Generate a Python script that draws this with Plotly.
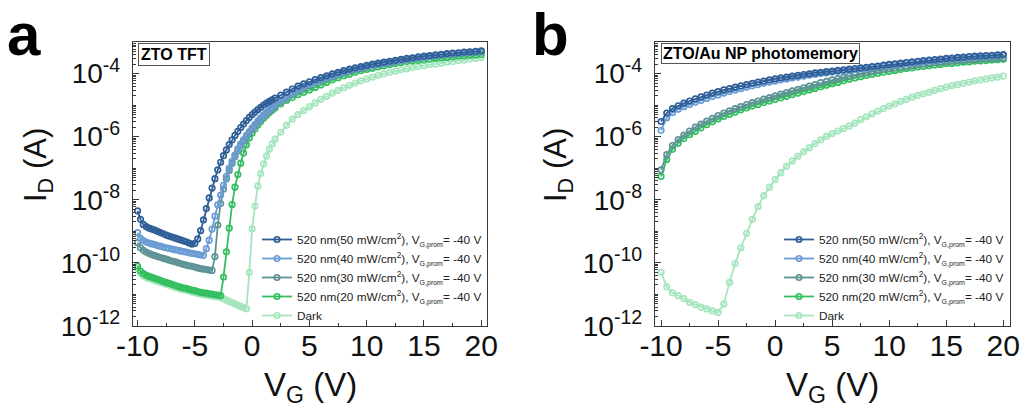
import plotly.graph_objects as go

# Gate-voltage sweep points (V)
VG_A = [-10.0, -9.75, -9.5, -9.25, -9.0, -8.75, -8.5, -8.25, -8.0, -7.75,
        -7.5, -7.25, -7.0, -6.75, -6.5, -6.25, -6.0, -5.75, -5.5, -5.25,
        -5.0, -4.75, -4.5, -4.25, -4.0, -3.75, -3.5, -3.25, -3.0, -2.75,
        -2.5, -2.25, -2.0, -1.75, -1.5, -1.25, -1.0, -0.75, -0.5, -0.25,
        0.0, 0.25, 0.5, 0.75, 1.0, 1.25, 1.5, 1.75, 2.0,
        2.5, 3.0, 3.5, 4.0, 4.5, 5.0, 5.5, 6.0, 6.5, 7.0,
        7.5, 8.0, 8.5, 9.0, 9.5, 10.0, 10.5, 11.0, 11.5, 12.0,
        12.5, 13.0, 13.5, 14.0, 14.5, 15.0, 15.5, 16.0, 16.5, 17.0,
        17.5, 18.0, 18.5, 19.0, 19.5, 20.0]

VG_B = [-10.0, -9.5, -9.0, -8.5, -8.0, -7.5, -7.0, -6.5, -6.0, -5.5,
        -5.0, -4.5, -4.0, -3.5, -3.0, -2.5, -2.0, -1.5, -1.0, -0.5,
        0.0, 0.5, 1.0, 1.5, 2.0, 2.5, 3.0, 3.5, 4.0, 4.5,
        5.0, 5.5, 6.0, 6.5, 7.0, 7.5, 8.0, 8.5, 9.0, 9.5,
        10.0, 10.5, 11.0, 11.5, 12.0, 12.5, 13.0, 13.5, 14.0, 14.5,
        15.0, 15.5, 16.0, 16.5, 17.0, 17.5, 18.0, 18.5, 19.0, 19.5,
        20.0]

# log10 of drain current (A), ZTO TFT
LOG_ID_A_50 = [-8.35, -8.62, -8.78, -8.85, -8.90, -8.93, -8.96, -9.00, -9.04, -9.08,
               -9.12, -9.15, -9.18, -9.21, -9.24, -9.27, -9.30, -9.33, -9.37, -9.41,
               -9.38, -9.24, -8.98, -8.64, -8.28, -7.94, -7.63, -7.33, -7.05, -6.81,
               -6.60, -6.42, -6.25, -6.10, -5.96, -5.83, -5.71, -5.60, -5.49, -5.39,
               -5.30, -5.22, -5.14, -5.07, -5.00, -4.94, -4.88, -4.83, -4.78,
               -4.68, -4.59, -4.49, -4.40, -4.33, -4.26, -4.19, -4.13, -4.07, -4.01,
               -3.96, -3.91, -3.86, -3.82, -3.78, -3.74, -3.70, -3.67, -3.64, -3.61,
               -3.58, -3.55, -3.52, -3.50, -3.47, -3.45, -3.43, -3.41, -3.39, -3.37,
               -3.35, -3.34, -3.32, -3.31, -3.30, -3.28]
LOG_ID_A_40 = [-9.04, -9.22, -9.29, -9.34, -9.37, -9.40, -9.42, -9.45, -9.47, -9.50,
               -9.52, -9.54, -9.56, -9.58, -9.60, -9.62, -9.64, -9.66, -9.68, -9.70,
               -9.71, -9.73, -9.75, -9.76, -9.55, -9.28, -8.93, -8.52, -8.16, -7.85,
               -7.54, -7.26, -7.00, -6.78, -6.58, -6.39, -6.23, -6.09, -5.96, -5.84,
               -5.72, -5.61, -5.50, -5.40, -5.31, -5.23, -5.15, -5.07, -5.00,
               -4.87, -4.75, -4.63, -4.52, -4.43, -4.35, -4.27, -4.20, -4.13, -4.07,
               -4.01, -3.96, -3.91, -3.86, -3.82, -3.78, -3.74, -3.70, -3.67, -3.64,
               -3.61, -3.58, -3.55, -3.52, -3.50, -3.48, -3.45, -3.43, -3.41, -3.39,
               -3.37, -3.36, -3.34, -3.33, -3.31, -3.30]
LOG_ID_A_30 = [-9.36, -9.52, -9.60, -9.66, -9.70, -9.74, -9.77, -9.80, -9.83, -9.86,
               -9.88, -9.91, -9.94, -9.96, -9.99, -10.02, -10.05, -10.07, -10.09, -10.11,
               -10.13, -10.16, -10.18, -10.20, -10.21, -10.23, -10.24, -9.80, -8.80, -8.12,
               -7.66, -7.34, -7.07, -6.84, -6.64, -6.45, -6.29, -6.14, -6.01, -5.89,
               -5.77, -5.66, -5.55, -5.45, -5.36, -5.27, -5.19, -5.11, -5.04,
               -4.91, -4.78, -4.66, -4.55, -4.46, -4.38, -4.30, -4.23, -4.16, -4.10,
               -4.04, -3.98, -3.93, -3.88, -3.84, -3.80, -3.76, -3.72, -3.69, -3.66,
               -3.62, -3.59, -3.56, -3.54, -3.51, -3.49, -3.46, -3.44, -3.42, -3.40,
               -3.38, -3.37, -3.35, -3.34, -3.32, -3.31]
LOG_ID_A_20 = [-10.10, -10.26, -10.34, -10.39, -10.43, -10.46, -10.49, -10.52, -10.55, -10.59,
               -10.62, -10.65, -10.68, -10.71, -10.74, -10.77, -10.79, -10.81, -10.84, -10.86,
               -10.88, -10.91, -10.93, -10.95, -10.96, -10.98, -10.99, -11.01, -11.02, -11.04,
               -10.45, -9.65, -8.90, -8.15, -7.60, -7.20, -6.84, -6.52, -6.26, -6.04,
               -5.89, -5.76, -5.63, -5.52, -5.42, -5.33, -5.24, -5.16, -5.09,
               -4.96, -4.85, -4.76, -4.67, -4.59, -4.52, -4.44, -4.36, -4.28, -4.20,
               -4.13, -4.07, -4.02, -3.96, -3.91, -3.87, -3.83, -3.79, -3.75, -3.72,
               -3.68, -3.65, -3.62, -3.60, -3.58, -3.56, -3.54, -3.52, -3.50, -3.49,
               -3.47, -3.45, -3.44, -3.42, -3.41, -3.40]
LOG_ID_A_DARK = [-10.18, -10.33, -10.41, -10.46, -10.50, -10.53, -10.56, -10.59, -10.62, -10.65,
                 -10.68, -10.71, -10.74, -10.77, -10.80, -10.83, -10.85, -10.87, -10.90, -10.92,
                 -10.94, -10.97, -10.99, -11.01, -11.02, -11.04, -11.05, -11.07, -11.08, -11.10,
                 -11.13, -11.18, -11.22, -11.26, -11.30, -11.34, -11.38, -11.42, -11.45, -10.30,
                 -8.92, -8.20, -7.56, -7.17, -6.86, -6.61, -6.40, -6.23, -6.08,
                 -5.86, -5.64, -5.44, -5.30, -5.17, -5.05, -4.93, -4.82, -4.72, -4.62,
                 -4.53, -4.45, -4.37, -4.30, -4.23, -4.17, -4.11, -4.06, -4.01, -3.96,
                 -3.92, -3.88, -3.85, -3.81, -3.78, -3.75, -3.72, -3.70, -3.67, -3.64,
                 -3.62, -3.59, -3.57, -3.54, -3.52, -3.49]

# log10 of drain current (A), ZTO/Au NP photomemory
LOG_ID_B_50 = [-5.52, -5.25, -5.11, -5.02, -4.94, -4.87, -4.80, -4.74, -4.68, -4.62,
               -4.57, -4.52, -4.48, -4.43, -4.39, -4.35, -4.31, -4.27, -4.24, -4.20,
               -4.17, -4.14, -4.11, -4.08, -4.06, -4.03, -4.01, -3.98, -3.96, -3.94,
               -3.92, -3.90, -3.88, -3.86, -3.84, -3.82, -3.80, -3.78, -3.76, -3.73,
               -3.71, -3.69, -3.67, -3.65, -3.63, -3.61, -3.59, -3.57, -3.56, -3.54,
               -3.52, -3.51, -3.49, -3.48, -3.46, -3.45, -3.44, -3.43, -3.42, -3.41,
               -3.40]
LOG_ID_B_40 = [-5.80, -5.40, -5.24, -5.13, -5.05, -4.98, -4.91, -4.85, -4.79, -4.73,
               -4.68, -4.62, -4.57, -4.52, -4.48, -4.43, -4.39, -4.35, -4.31, -4.27,
               -4.24, -4.20, -4.17, -4.14, -4.11, -4.08, -4.05, -4.03, -4.00, -3.98,
               -3.95, -3.93, -3.91, -3.89, -3.87, -3.85, -3.83, -3.80, -3.78, -3.76,
               -3.74, -3.72, -3.70, -3.68, -3.66, -3.64, -3.62, -3.60, -3.58, -3.56,
               -3.55, -3.53, -3.51, -3.50, -3.48, -3.47, -3.46, -3.45, -3.44, -3.43,
               -3.42]
LOG_ID_B_30 = [-7.05, -6.57, -6.28, -6.09, -5.95, -5.82, -5.70, -5.60, -5.51, -5.42,
               -5.33, -5.25, -5.18, -5.11, -5.05, -4.98, -4.92, -4.87, -4.81, -4.76,
               -4.71, -4.65, -4.60, -4.55, -4.50, -4.45, -4.40, -4.35, -4.29, -4.25,
               -4.20, -4.16, -4.12, -4.08, -4.03, -4.00, -3.97, -3.93, -3.90, -3.87,
               -3.85, -3.82, -3.79, -3.77, -3.75, -3.72, -3.70, -3.68, -3.66, -3.64,
               -3.63, -3.61, -3.60, -3.58, -3.57, -3.56, -3.55, -3.54, -3.53, -3.52,
               -3.51]
LOG_ID_B_20 = [-7.26, -6.72, -6.40, -6.21, -6.06, -5.94, -5.83, -5.72, -5.62, -5.53,
               -5.44, -5.36, -5.29, -5.22, -5.15, -5.09, -5.03, -4.98, -4.92, -4.87,
               -4.82, -4.77, -4.72, -4.67, -4.62, -4.57, -4.52, -4.47, -4.42, -4.37,
               -4.32, -4.28, -4.23, -4.18, -4.14, -4.10, -4.06, -4.02, -3.99, -3.96,
               -3.93, -3.90, -3.87, -3.84, -3.82, -3.79, -3.77, -3.75, -3.73, -3.71,
               -3.69, -3.68, -3.66, -3.64, -3.63, -3.61, -3.60, -3.59, -3.57, -3.56,
               -3.55]
LOG_ID_B_DARK = [-10.30, -10.76, -10.95, -11.04, -11.13, -11.25, -11.32, -11.40, -11.46, -11.52,
                 -11.57, -11.30, -10.62, -10.02, -9.52, -9.06, -8.62, -8.22, -7.87, -7.60,
                 -7.36, -7.14, -6.94, -6.77, -6.62, -6.48, -6.35, -6.22, -6.10, -5.99,
                 -5.90, -5.82, -5.74, -5.66, -5.57, -5.46, -5.37, -5.28, -5.19, -5.11,
                 -5.03, -4.96, -4.88, -4.82, -4.75, -4.69, -4.64, -4.59, -4.53, -4.48,
                 -4.43, -4.38, -4.35, -4.31, -4.27, -4.23, -4.20, -4.17, -4.14, -4.11,
                 -4.08]

SUB = "<span style='font-size:7px'>G,prom</span>"
LABELS = [f"520 nm(50 mW/cm<sup>2</sup>), V<sub>{SUB}</sub>= -40 V",
          f"520 nm(40 mW/cm<sup>2</sup>), V<sub>{SUB}</sub>= -40 V",
          f"520 nm(30 mW/cm<sup>2</sup>), V<sub>{SUB}</sub>= -40 V",
          f"520 nm(20 mW/cm<sup>2</sup>), V<sub>{SUB}</sub>= -40 V",
          "Dark"]
COLORS = ["#2F5E97", "#6A9CD4", "#5E9396", "#33BE5F", "#A3E5BC"]
SERIES_A = [LOG_ID_A_50, LOG_ID_A_40, LOG_ID_A_30, LOG_ID_A_20, LOG_ID_A_DARK]
SERIES_B = [LOG_ID_B_50, LOG_ID_B_40, LOG_ID_B_30, LOG_ID_B_20, LOG_ID_B_DARK]

X_TICKS = [-10, -5, 0, 5, 10, 15, 20]
X_TICKTEXT = ["-10", "-5", "0", "5", "10", "15", "20"]
Y_TICKS = [1e-12, 1e-10, 1e-8, 1e-6, 1e-4]
Y_TICKTEXT = ["10<sup>-12</sup>", "10<sup>-10</sup>", "10<sup>-8</sup>",
              "10<sup>-6</sup>", "10<sup>-4</sup>"]

W, H = 1027, 410
FONT = "Arial, Liberation Sans, sans-serif"


def px(x):
    return x / W


def py(y):
    return 1 - y / H


fig = go.Figure()

# draw dark first so the illuminated curves sit on top
order = [4, 3, 2, 1, 0]
for vg, series, xa, ya, leg in [(VG_A, SERIES_A, "x", "y", "legend"),
                                (VG_B, SERIES_B, "x2", "y2", "legend2")]:
    for i in order:
        fig.add_trace(go.Scatter(
            x=vg, y=[10 ** v for v in series[i]],
            mode="lines+markers", name=LABELS[i],
            xaxis=xa, yaxis=ya, legend=leg, legendrank=i,
            line=dict(color=COLORS[i], width=1.8),
            marker=dict(symbol="circle-open", size=5.5, color=COLORS[i],
                        line=dict(width=1.7, color=COLORS[i])),
        ))

minor_y = [k * 10 ** n for n in range(-12, -3) for k in range(1, 10)]
minor_x = [-7.5, -2.5, 2.5, 7.5, 12.5, 17.5]

axis_common = dict(
    showline=True, linecolor="#3a3a3a", linewidth=1.3, mirror=True,
    ticks="inside", ticklen=6, tickwidth=1, tickcolor="#3a3a3a",
    showgrid=False, zeroline=False, automargin=False,
)

x_common = dict(axis_common, tickvals=X_TICKS, ticktext=X_TICKTEXT,
                tickfont=dict(family=FONT, size=30, color="#111"),
                minor=dict(tickvals=minor_x, ticks="inside", ticklen=3,
                           tickcolor="#3a3a3a", showgrid=False),
                ticklabelstandoff=-7)
y_common = dict(axis_common, type="log", range=[-12, -3],
                tickvals=Y_TICKS, ticktext=Y_TICKTEXT,
                tickfont=dict(family=FONT, size=28, color="#111"),
                minor=dict(tickvals=minor_y, ticks="inside", ticklen=3,
                           tickcolor="#3a3a3a", showgrid=False),
                domain=[py(326), py(42)], ticklabelstandoff=6)

legend_common = dict(xanchor="left", yanchor="top", y=py(225),
                     bgcolor="rgba(0,0,0,0)",
                     font=dict(family=FONT, size=11.8, color="#222"),
                     itemwidth=30, tracegroupgap=0)

fig.update_layout(
    template="none",
    width=W, height=H,
    margin=dict(l=0, r=0, t=0, b=0, autoexpand=False),
    paper_bgcolor="white", plot_bgcolor="white",
    xaxis=dict(x_common, domain=[px(133), px(487)], range=[-10.4, 20.5], anchor="y"),
    yaxis=dict(y_common, anchor="x"),
    xaxis2=dict(x_common, domain=[px(655), px(1010)], range=[-10.53, 20.59], anchor="y2"),
    yaxis2=dict(y_common, anchor="x2"),
    legend=dict(legend_common, x=px(257)),
    legend2=dict(legend_common, x=px(779)),
    showlegend=True,
)

annotations = [
    # panel letters
    dict(text="<b>a</b>", x=px(24), y=py(35), font=dict(family=FONT, size=60, color="black")),
    dict(text="<b>b</b>", x=px(550), y=py(35), font=dict(family=FONT, size=60, color="black")),
    # sample labels
    dict(text="<b>ZTO TFT</b>", x=px(138), y=py(43), xanchor="left", yanchor="top",
         font=dict(family=FONT, size=16, color="black"),
         bordercolor="#555", borderwidth=1, borderpad=2, bgcolor="white"),
    dict(text="<b>ZTO/Au NP photomemory</b>", x=px(661), y=py(43), xanchor="left", yanchor="top",
         font=dict(family=FONT, size=16, color="black"),
         bordercolor="#555", borderwidth=1, borderpad=1, bgcolor="white"),
    # axis titles
    dict(text="V<sub>G</sub> (V)", x=px(310), y=py(387), font=dict(family=FONT, size=33, color="#111")),
    dict(text="V<sub>G</sub> (V)", x=px(832), y=py(387), font=dict(family=FONT, size=33, color="#111")),
    dict(text="I<sub>D</sub> (A)", x=px(38), y=py(165), textangle=-90,
         font=dict(family=FONT, size=31, color="#111")),
    dict(text="I<sub>D</sub> (A)", x=px(558), y=py(165), textangle=-90,
         font=dict(family=FONT, size=31, color="#111")),
]
for a in annotations:
    a.setdefault("xref", "paper")
    a.setdefault("yref", "paper")
    a.setdefault("showarrow", False)
    a.setdefault("xanchor", "center")
    a.setdefault("yanchor", "middle")
fig.update_layout(annotations=annotations)

fig.write_html("out.html")
